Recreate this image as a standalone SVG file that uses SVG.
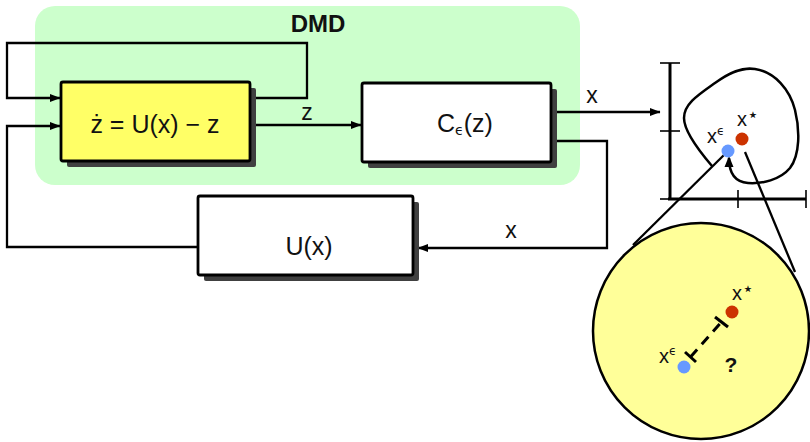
<svg xmlns="http://www.w3.org/2000/svg" width="810" height="442" viewBox="0 0 810 442">
<defs>
<marker id="arr" markerUnits="userSpaceOnUse" markerWidth="11" markerHeight="9" refX="10" refY="4.5" orient="auto">
<path d="M0,0.5 L10.5,4.5 L0,8.5 z" fill="#000"/>
</marker>
<marker id="arr2" markerUnits="userSpaceOnUse" markerWidth="11" markerHeight="11" refX="9" refY="5" orient="auto">
<path d="M0,0.5 L11,5 L0,9.5 z" fill="#000"/>
</marker>
<style>
.wire{fill:none;stroke:#000;stroke-width:2.3;stroke-linejoin:miter}
.box{stroke:#000;stroke-width:2.8}
.shadow{fill:#404040}
.t{font-family:"Liberation Sans","DejaVu Sans",sans-serif;fill:#111}
.sym{font-family:"DejaVu Sans","Liberation Sans",sans-serif;fill:#111}
</style>
</defs>
<rect id="dmd-region" x="35" y="6" width="545" height="179" rx="20" ry="20" fill="#ccffcc"/>
<text class="t" x="318" y="32" font-size="24" font-weight="bold" text-anchor="middle">DMD</text>

<g id="connectors">
<polyline class="wire" points="250,98 307,98 307,43 7,43 7,98 60,98" marker-end="url(#arr)"/>
<polyline class="wire" points="198,247 7,247 7,126 60,126" marker-end="url(#arr)"/>
<line class="wire" x1="250" y1="125" x2="361" y2="125" marker-end="url(#arr)"/>
<line class="wire" x1="551" y1="112" x2="660" y2="112" marker-end="url(#arr)"/>
<polyline class="wire" points="551,141 607,141 607,248 418,248" marker-end="url(#arr)"/>
<text class="t" x="307" y="120" font-size="23" text-anchor="middle">z</text>
<text class="t" x="592" y="103" font-size="23" text-anchor="middle">x</text>
<text class="t" x="511" y="238" font-size="23" text-anchor="middle">x</text>
</g>

<g id="node-zdot">
<rect class="shadow" x="67" y="88" width="189" height="79" rx="2"/>
<rect class="box" x="61" y="82" width="189" height="79" rx="2" fill="#ffff66"/>
<text class="t" x="155" y="133" font-size="25" text-anchor="middle">ż = U(x) − z</text>
</g>

<g id="node-C">
<rect class="shadow" x="368" y="89" width="189" height="79" rx="2"/>
<rect class="box" x="362" y="83" width="189" height="79" rx="2" fill="#fff"/>
<text class="t" x="437" y="132" font-size="25">C<tspan class="sym" font-size="14" dy="3">ϵ</tspan><tspan dy="-3">(z)</tspan></text>
</g>

<g id="node-U">
<rect class="shadow" x="204" y="202" width="215" height="79" rx="2"/>
<rect class="box" x="198" y="196" width="215" height="79" rx="2" fill="#fff"/>
<text class="t" x="309" y="255" font-size="25" text-anchor="middle">U(x)</text>
</g>

<g id="plot">
<line x1="670" y1="63" x2="670" y2="200" stroke="#000" stroke-width="3"/>
<line x1="668" y1="199" x2="806" y2="199" stroke="#000" stroke-width="3"/>
<g stroke="#000" stroke-width="1.6">
<line x1="660" y1="63" x2="680" y2="63"/>
<line x1="660" y1="131" x2="680" y2="131"/>
<line x1="660" y1="199" x2="670" y2="199"/>
<line x1="738" y1="190" x2="738" y2="208"/>
<line x1="806" y1="190" x2="806" y2="208"/>
</g>
<path d="M712,166 C700,152 684,132 684,118 C684,104 698,95 715,83 C730,72 742,67 755,69 C775,72 790,90 795,110 C800,130 800,155 790,168 C780,180 762,184 748,183 C735,182 729,174 729,158" fill="none" stroke="#000" stroke-width="2.5" marker-end="url(#arr2)"/>
<line x1="728" y1="151" x2="633" y2="245" stroke="#000" stroke-width="2.3"/>
<line x1="745" y1="152" x2="795" y2="272" stroke="#000" stroke-width="2.3"/>
<circle cx="728" cy="151" r="6.5" fill="#6699ff"/>
<circle cx="742" cy="139" r="6.5" fill="#cc3300"/>
<text class="t" x="707" y="143" font-size="20">x<tspan class="sym" font-size="12" dy="-8">ϵ</tspan></text>
<text class="t" x="737" y="126" font-size="20">x<tspan class="sym" font-size="19" dy="-5">⋆</tspan></text>
</g>

<g id="zoom-circle">
<circle cx="701" cy="331" r="108" fill="#ffff99" stroke="#000" stroke-width="2.5"/>
<line x1="690.5" y1="357" x2="721.5" y2="322" stroke="#000" stroke-width="3" stroke-dasharray="10 7"/>
<line x1="685" y1="352" x2="696" y2="362" stroke="#000" stroke-width="3"/>
<line x1="715" y1="317" x2="728" y2="327" stroke="#000" stroke-width="3"/>
<circle cx="684" cy="367" r="6.5" fill="#6699ff"/>
<circle cx="732" cy="312" r="6.5" fill="#cc3300"/>
<text class="t" x="659" y="363" font-size="20">x<tspan class="sym" font-size="12" dy="-8">ϵ</tspan></text>
<text class="t" x="732" y="300" font-size="20">x<tspan class="sym" font-size="19" dy="-5">⋆</tspan></text>
<text class="t" x="731" y="372" font-size="21" font-weight="bold" text-anchor="middle">?</text>
</g>
</svg>
